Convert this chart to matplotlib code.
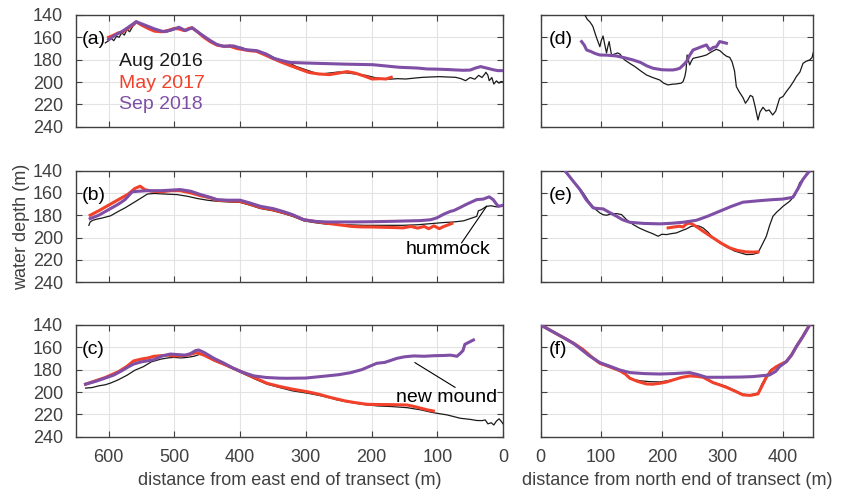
import numpy as np
import matplotlib
matplotlib.use('Agg')
import matplotlib.pyplot as plt

plt.rcParams['font.family'] = ['Liberation Sans', 'DejaVu Sans']

# ---- panel (a) ----
aug_a_x = [605, 600, 596, 592, 588, 584, 580, 576, 572, 568, 563, 558, 550, 540, 530, 520, 510, 500, 493, 485,
           478, 472, 465, 455, 445, 435, 425, 415, 405, 398, 390, 382, 374, 365, 355, 345, 335, 325, 315, 300,
           290, 280, 265, 250, 236, 222, 209, 195, 185, 173, 160, 148, 135, 122, 110, 97, 85, 72, 64, 57,
           50, 43, 37, 32, 28, 26, 23, 21, 17, 14, 10, 6, 3, 0]
aug_a_y = [165, 163, 161, 163, 159, 160, 156, 158, 153, 155, 150, 147, 149, 152, 154, 155, 155, 153, 152, 154,
           153, 152, 155, 160, 164, 166, 168, 167, 169, 169, 171, 172, 172, 174, 176, 179, 181, 183, 186, 189,
           191, 193, 192, 191, 192, 193, 194, 196, 197, 197.5, 197, 197.3, 196.5, 195.8, 195.5, 195.2, 195.5, 195.8, 197, 198.8,
           196, 197.5, 194, 196, 193, 191.3, 194, 198.8, 196, 201.8, 199, 201, 199.5, 200]
may_a_x = [600, 592, 585, 578, 570, 563, 558, 550, 540, 530, 520, 510, 500, 493, 485, 478, 473, 465, 455, 445,
           435, 425, 415, 405, 395, 385, 375, 365, 350, 338, 325, 310, 295, 280, 264, 250, 237, 225, 212, 199,
           187, 178, 170]
may_a_y = [160, 158, 156, 155, 152, 149, 146, 149, 152, 154.5, 155, 154, 152, 152.5, 154, 152, 151.5, 155, 160, 164,
           167, 168, 168, 170, 171, 172, 172.5, 175, 179, 182, 185, 188.3, 191.5, 192.8, 193.4, 192, 190.7, 192, 194.5, 197.3,
           197, 197.3, 195.8]
sep_a_x = [600, 590, 580, 570, 558, 545, 530, 516, 505, 493, 483, 473, 460, 445, 435, 425, 410, 400, 392, 374,
           360, 349, 335, 324, 300, 270, 240, 198, 158, 130, 116, 100, 85, 72, 60, 50, 42, 34, 25, 15, 8, 0]
sep_a_y = [162, 158, 155, 151, 146, 149, 152.5, 155, 153.5, 151, 154, 151.4, 157, 163, 166.5, 168, 167.7, 169.5, 171, 172,
           175, 178.8, 181, 182.5, 183, 183.5, 184, 184.5, 186.8, 187.5, 188.3, 188.5, 188.8, 189.2, 189.5, 189.3, 187.5, 186.2, 187.5, 189, 189.8, 189.8]

# ---- panel (b) ----
aug_b_x = [630, 628, 624, 618, 610, 597, 585, 575, 560, 549, 541, 530, 515, 496, 480, 465, 450, 435, 420, 400,
           385, 369, 350, 334, 320, 303, 288, 268, 240, 210, 180, 152, 130, 110, 90, 75, 60, 50, 45, 40,
           37.5, 33, 25, 18, 10, 5, 0]
aug_b_y = [189, 186, 184.5, 183.5, 182.5, 180.5, 176.5, 173.4, 168, 164, 161, 160.5, 161, 161.5, 163, 165, 166.5, 167.5, 168, 168.5,
           171, 174, 176, 178.5, 181, 185, 186.5, 188, 188.5, 189, 189, 189, 188.5, 187.5, 186.5, 186, 185, 183, 182, 181,
           176, 175, 172, 171.5, 172.5, 172, 172]
may_b_x = [628, 615, 600, 585, 570, 560, 552, 545, 535, 520, 505, 491, 475, 460, 445, 435, 420, 400, 385, 369,
           350, 334, 320, 303, 288, 270, 250, 230, 217, 200, 180, 165, 152, 140, 130, 120, 113, 105, 97, 90, 83, 78]
may_b_y = [180, 176, 171, 166, 161, 156, 154, 157, 158.5, 159, 158, 158, 160, 162.5, 164.5, 166.5, 167, 167.5, 170, 173,
           175, 177.5, 180, 184, 185.4, 187, 188.5, 190, 190.4, 190.5, 190.8, 191, 191.3, 190, 191.5, 190, 192, 189.5, 192, 190, 188.5, 187.4]
sep_b_x = [628, 615, 600, 585, 575, 564, 555, 541, 520, 505, 491, 475, 460, 445, 435, 420, 400, 385, 369, 350,
           334, 320, 303, 285, 268, 230, 200, 167, 126, 110, 101, 90, 80, 75, 65, 55, 40, 30, 21, 15, 10, 7, 3, 0]
sep_b_y = [183, 180, 175, 170, 166, 159, 158.5, 158, 158, 157.5, 157, 158.5, 161.5, 164, 166, 166.5, 166.5, 169, 172, 174,
           176.7, 179.5, 184, 185.5, 186, 186, 185.8, 185.4, 184.8, 184, 182.4, 179, 176.5, 175.8, 173, 170, 166, 165.5, 163.5, 166, 170, 172, 171.5, 171]

# ---- panel (c) ----
aug_c_x = [635, 625, 615, 605, 597, 585, 572, 560, 547, 535, 520, 510, 501, 490, 480, 470, 460, 450, 440, 425,
           410, 390, 375, 359, 340, 320, 298, 280, 265, 253, 240, 225, 207, 190, 170, 146, 125, 110, 101, 85,
           65, 50, 40, 32, 27, 23, 18, 14, 10, 6, 3, 0]
aug_c_y = [196.5, 196, 194.5, 193.5, 192, 189, 185, 180.5, 177.3, 173, 170.5, 169.5, 169, 169.5, 169, 168, 166, 168, 172, 175.5,
           179.5, 185, 189, 193, 196, 199, 201, 203, 205, 207, 208.5, 210, 211.5, 212.5, 213, 214, 216, 218, 219, 220.5,
           223.5, 224.5, 225.5, 225.6, 225, 228.5, 227.5, 229.5, 226, 224, 226, 228.5]
may_c_x = [635, 620, 605, 585, 572, 562, 550, 540, 531, 520, 510, 501, 490, 480, 466, 455, 440, 425, 410, 390,
           375, 359, 340, 320, 298, 280, 265, 253, 240, 225, 207, 190, 170, 146, 135, 125, 115, 106]
may_c_y = [193, 190, 187, 181.8, 177, 172.2, 170.5, 169.5, 168, 167.5, 167, 167.7, 167.5, 167, 164.7, 167, 171.3, 175, 178.8, 184,
           188, 192.2, 195, 197.5, 199.7, 202, 204.5, 206.2, 208, 209.5, 211, 211.2, 211.3, 211.6, 213, 214.5, 216, 217]
sep_c_x = [635, 620, 605, 592, 580, 570, 562, 550, 540, 531, 520, 506, 495, 483, 475, 468, 463, 455, 440, 425,
           410, 395, 379, 360, 340, 329, 300, 268, 250, 232, 215, 205, 192, 180, 161, 150, 136, 120, 105, 90,
           80, 70, 65, 61, 58, 52, 45]
sep_c_y = [193, 190.5, 187.5, 184.8, 181, 177.5, 175, 173, 172, 171, 168, 166, 166.5, 167, 165.5, 163, 162.4, 164.5, 169.8, 174,
           178.8, 182.5, 185.6, 187, 187.6, 187.7, 187.5, 185.6, 184.5, 182.7, 180, 177.5, 174.3, 173.5, 169.8, 168.5, 167.7, 168, 167.5, 167.3,
           167, 168, 165.4, 163, 157.3, 155.5, 153.4]

# ---- panel (d) ----
aug_d_x = [73, 77, 81, 86, 92, 97.7, 100, 103, 106, 108.7, 111, 113, 115, 117, 122, 127, 130.7, 138, 147, 155,
           165, 174.7, 185, 196.6, 203, 210, 217, 224, 232, 235, 238, 240, 241.7, 244, 246, 249, 251.6, 258, 266, 273.6,
           282, 290, 296, 302, 307, 312, 316, 320, 323, 328, 334, 338, 342, 346, 350, 354, 358.7, 362, 367, 372,
           377, 383, 388, 394.4, 400, 405.5, 412, 418, 422, 428, 433, 438, 444, 448, 450]
aug_d_y = [140, 144, 146, 150, 160, 168.4, 163, 158.8, 167, 174, 168, 163.8, 170, 175.8, 175, 174, 174.9, 180, 183.3, 186,
           190, 193.7, 196, 198.2, 201, 202.6, 202, 201.7, 201, 199.7, 195, 189.2, 175.8, 181, 184.7, 181, 178.8, 178, 177, 175.8,
           173, 170.7, 172, 175, 177, 177.9, 182, 190, 204.1, 209, 214, 219, 216, 212, 213.1, 222, 234, 227, 222.6, 226,
           225, 229.5, 226, 214.6, 213, 208.6, 204, 199, 195.2, 191, 183.3, 181.5, 180.3, 178, 173.7]
sep_d_x = [67.5, 72, 75.8, 82, 90, 97.7, 110, 125, 140, 152.7, 165, 175, 185.6, 200, 210, 218.6, 225, 229.6, 235, 240.6,
           246, 251.6, 258, 265, 273.6, 279, 285, 290, 295.5, 301, 306.6]
sep_d_y = [163.8, 167, 171.3, 172.5, 174.5, 175.8, 176, 176.7, 178.5, 180.3, 182.5, 185.5, 187.7, 189, 189.2, 189.2, 188.5, 187.7, 185, 181.8,
           176, 171.3, 170, 168.5, 166.8, 171.3, 169, 168.4, 163.8, 164.5, 165.3]

# ---- panel (e) ----
aug_e_x = [31.8, 40, 50, 60, 70.2, 80, 90, 97.7, 103, 108.8, 115, 125.3, 133.5, 142, 152.6, 163, 174.7, 185, 193.9, 200,
           207.7, 215, 224, 232, 240.6, 248, 257, 262, 268, 276, 284.5, 295, 306.6, 320, 339.5, 350, 358.7, 365, 372.5, 378,
           383.4, 390, 394.4, 400, 411, 420, 427.4, 437, 446.7]
aug_e_y = [140, 141, 147, 153, 160, 168, 174.5, 177.9, 179.5, 180, 179, 178.5, 179.4, 184, 188.3, 191.5, 194.3, 196.5, 198.8, 197,
           197.3, 196.5, 195.8, 194, 192.2, 190, 189.2, 189.8, 191.3, 195, 200.2, 204.5, 208.3, 212, 215.2, 215, 213.7, 207, 198.8, 189,
           180.9, 177, 174.9, 172, 167.5, 162, 151, 145, 140]
may_e_x = [210.4, 220, 229.6, 235, 240, 246, 252, 258, 262.6, 270, 284.5, 298, 312, 325, 339.5, 350, 358.7]
may_e_y = [191.3, 190.5, 189.8, 190.5, 188, 186.9, 188.5, 190.5, 192.2, 195, 200.2, 205, 209.2, 211.5, 212.8, 213, 212.8]
sep_e_x = [40, 50, 64.8, 75, 86.7, 95, 103.2, 112, 125.3, 135, 147.2, 170, 196.6, 215, 235, 257, 275, 295.5, 315, 334,
           360, 383.4, 400, 416.3, 425, 432.8, 443.9]
sep_e_y = [140, 147, 157, 166, 173.4, 174, 174.3, 177, 180.9, 184, 186.3, 187.3, 187.7, 187.2, 186.3, 184.5, 181, 176.4, 172, 168.3,
           167, 166, 165.5, 163.9, 156, 148, 140]

# ---- panel (f) ----
aug_f_x = [0, 20, 40, 55, 70, 85, 97.7, 112, 130.7, 140, 152, 165, 180, 196.6, 208, 218.6, 232, 246, 258, 268,
           280, 295, 306.6, 320, 334, 346, 358.7, 365, 372.5, 380, 389, 397, 405.5, 414, 422, 432, 444]
aug_f_y = [140, 146.5, 152.5, 157, 162.5, 169, 174, 177.5, 181, 184.5, 188.6, 190, 190.7, 191, 190, 189, 187, 185.5, 186, 187,
           190.5, 193, 195, 198.5, 202, 202.5, 201, 193, 186, 180, 177, 175, 172.5, 167, 159, 151, 140]
may_f_x = [0, 20, 40, 55, 70, 85, 97.7, 112, 130.7, 140, 147.2, 160, 174.7, 185, 196.6, 208, 218.6, 232, 246, 258,
           268, 276, 284.5, 295, 306.6, 320, 334, 346, 358.7, 365, 372.5, 380, 389, 397, 405.5, 414, 422, 432, 444]
may_f_y = [140, 146, 152, 156.5, 162, 169, 174.3, 177, 181, 184, 187.7, 190.5, 192.8, 193, 192.2, 191, 189.2, 187, 185.6, 186,
           186.8, 189, 191.6, 193.5, 195.8, 199, 202.6, 203, 201.7, 195, 186.8, 181, 177.3, 175, 172.8, 167, 159.4, 151, 140]
sep_f_x = [0, 20, 40, 53.7, 65, 80, 97.7, 112, 130.7, 147.2, 170, 196.6, 220, 246, 260, 273.6, 300, 330, 350.4, 378,
           388, 394.4, 405.5, 414, 422, 432, 443.9]
sep_f_y = [140, 146, 152, 156.4, 161, 167.5, 173.7, 176.5, 180.3, 182.6, 183.5, 183.9, 183.5, 182.6, 184.5, 186.8, 186.8, 186.6, 186.2, 184.7,
           181.5, 177.3, 172.8, 167, 159.4, 151, 140]

labels = ['Aug 2016', 'May 2017', 'Sep 2018']
colors = ['#1a1a1a', '#f2412b', '#7f4fa5']
widths = [0.9, 2.2, 2.2]
yticks = [140, 160, 180, 200, 220, 240]
gray = '#404040'

fig = plt.figure(figsize=(8.44, 4.93), dpi=100)
left_x0, left_w = 0.0897, 0.5063
right_x0, right_w = 0.6406, 0.3230
rows_y0 = [0.7430, 0.4274, 0.1142]
h = 0.2266

panels = [
    ('(a)', left_x0, left_w, rows_y0[0], [(aug_a_x, aug_a_y), (may_a_x, may_a_y), (sep_a_x, sep_a_y)]),
    ('(b)', left_x0, left_w, rows_y0[1], [(aug_b_x, aug_b_y), (may_b_x, may_b_y), (sep_b_x, sep_b_y)]),
    ('(c)', left_x0, left_w, rows_y0[2], [(aug_c_x, aug_c_y), (may_c_x, may_c_y), (sep_c_x, sep_c_y)]),
    ('(d)', right_x0, right_w, rows_y0[0], [(aug_d_x, aug_d_y), None, (sep_d_x, sep_d_y)]),
    ('(e)', right_x0, right_w, rows_y0[1], [(aug_e_x, aug_e_y), (may_e_x, may_e_y), (sep_e_x, sep_e_y)]),
    ('(f)', right_x0, right_w, rows_y0[2], [(aug_f_x, aug_f_y), (may_f_x, may_f_y), (sep_f_x, sep_f_y)]),
]

axes = []
for i, (tag, x0, w, y0, series) in enumerate(panels):
    ax = fig.add_axes([x0, y0, w, h])
    for k, s in enumerate(series):
        if s is None:
            continue
        ax.plot(s[0], s[1], color=colors[k], lw=widths[k], zorder=3 + k)
    ax.set_ylim(240, 140)
    ax.set_yticks(yticks)
    if i < 3:
        ax.set_xlim(650, 0)
        ax.set_xticks([600, 500, 400, 300, 200, 100, 0])
        xt = 0.015
    else:
        ax.set_xlim(0, 450)
        ax.set_xticks([0, 100, 200, 300, 400])
        ax.set_yticklabels([])
        xt = 0.028
    if i not in (2, 5):
        ax.set_xticklabels([])
    ax.grid(True, color='#e3e3e3', lw=0.8, zorder=0)
    ax.tick_params(direction='in', length=4, width=0.8, colors=gray, labelsize=13,
                   top=True, right=True)
    ax.tick_params(axis='x', pad=9)
    ax.tick_params(axis='y', pad=9)
    for sp in ax.spines.values():
        sp.set_color(gray)
        sp.set_linewidth(1.0)
    ax.text(xt, 0.78, tag, transform=ax.transAxes, fontsize=14, va='center', ha='left',
            color='black', zorder=10)
    axes.append(ax)

# legend as coloured text in (a)
for k, lab in enumerate(labels):
    axes[0].text(584, 181.8 + k * 19.3, lab, color=colors[k], fontsize=14, va='center', ha='left')

# annotations: leader line + label
axes[1].plot([63, 25], [204.7, 172], color='black', lw=0.8, zorder=8)
axes[1].text(84, 210.7, 'hummock', fontsize=14, ha='center', va='center', zorder=9)
axes[2].plot([73, 134], [195.8, 173.7], color='black', lw=0.8, zorder=8)
axes[2].text(86, 204.7, 'new mound', fontsize=14, ha='center', va='center', zorder=9)

axes[2].set_xlabel('distance from east end of transect (m)', fontsize=13, color=gray, labelpad=4)
axes[5].set_xlabel('distance from north end of transect (m)', fontsize=13, color=gray, labelpad=4)
fig.text(0.026, 0.54, 'water depth (m)', rotation=90, fontsize=13, color=gray, ha='center', va='center')

plt.savefig('out.png', dpi=100)
